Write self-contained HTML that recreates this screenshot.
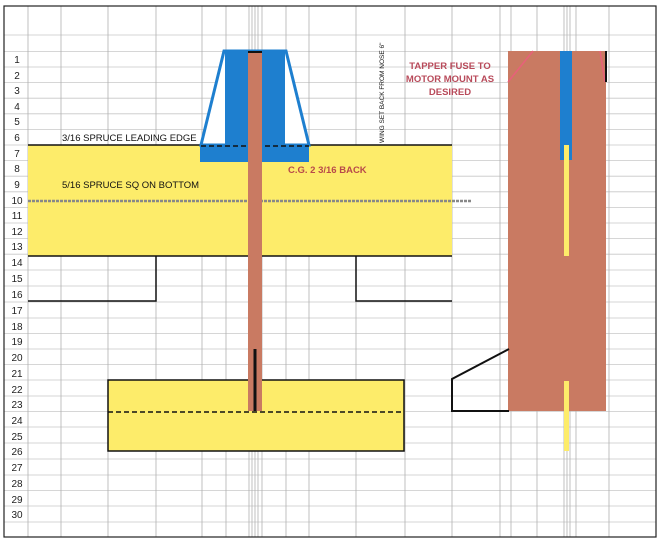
<!DOCTYPE html>
<html><head><meta charset="utf-8"><style>
html,body{margin:0;padding:0;background:#fff;}
svg{display:block;}
text{font-family:"Liberation Sans",sans-serif;}
</style></head><body>
<svg width="660" height="543" viewBox="0 0 660 543" xmlns="http://www.w3.org/2000/svg">
<rect x="0" y="0" width="660" height="543" fill="#fff"/>
<!-- grid horizontal -->
<g stroke="#c8c8c8" stroke-width="0.8">
<line x1="4" y1="35" x2="656" y2="35"/>
<line x1="4" y1="51.4" x2="656" y2="51.4"/>
<line x1="4" y1="67" x2="656" y2="67"/>
<line x1="4" y1="82.6" x2="656" y2="82.6"/>
<line x1="4" y1="98.2" x2="656" y2="98.2"/>
<line x1="4" y1="113.8" x2="656" y2="113.8"/>
<line x1="4" y1="129.4" x2="656" y2="129.4"/>
<line x1="4" y1="145" x2="656" y2="145"/>
<line x1="4" y1="160.6" x2="656" y2="160.6"/>
<line x1="4" y1="176.2" x2="656" y2="176.2"/>
<line x1="4" y1="191.8" x2="656" y2="191.8"/>
<line x1="4" y1="207.4" x2="656" y2="207.4"/>
<line x1="4" y1="223" x2="656" y2="223"/>
<line x1="4" y1="238.6" x2="656" y2="238.6"/>
<line x1="4" y1="254.2" x2="656" y2="254.2"/>
<line x1="4" y1="270" x2="656" y2="270"/>
<line x1="4" y1="286" x2="656" y2="286"/>
<line x1="4" y1="302" x2="656" y2="302"/>
<line x1="4" y1="318" x2="656" y2="318"/>
<line x1="4" y1="333.5" x2="656" y2="333.5"/>
<line x1="4" y1="349" x2="656" y2="349"/>
<line x1="4" y1="364.5" x2="656" y2="364.5"/>
<line x1="4" y1="380" x2="656" y2="380"/>
<line x1="4" y1="396" x2="656" y2="396"/>
<line x1="4" y1="411.5" x2="656" y2="411.5"/>
<line x1="4" y1="427" x2="656" y2="427"/>
<line x1="4" y1="443" x2="656" y2="443"/>
<line x1="4" y1="459" x2="656" y2="459"/>
<line x1="4" y1="475" x2="656" y2="475"/>
<line x1="4" y1="490.5" x2="656" y2="490.5"/>
<line x1="4" y1="506" x2="656" y2="506"/>
<line x1="4" y1="522" x2="656" y2="522"/>
</g>
<!-- grid vertical -->
<g stroke="#b0b0b0" stroke-width="0.8">
<line x1="28" y1="6" x2="28" y2="537"/>
<line x1="61" y1="6" x2="61" y2="537"/>
<line x1="108" y1="6" x2="108" y2="537"/>
<line x1="156" y1="6" x2="156" y2="537"/>
<line x1="202" y1="6" x2="202" y2="537"/>
<line x1="226" y1="6" x2="226" y2="537"/>
<line x1="249" y1="6" x2="249" y2="537"/>
<line x1="252" y1="6" x2="252" y2="537"/>
<line x1="255" y1="6" x2="255" y2="537"/>
<line x1="258" y1="6" x2="258" y2="537"/>
<line x1="262" y1="6" x2="262" y2="537"/>
<line x1="286" y1="6" x2="286" y2="537"/>
<line x1="309" y1="6" x2="309" y2="537"/>
<line x1="356" y1="6" x2="356" y2="537"/>
<line x1="405" y1="6" x2="405" y2="537"/>
<line x1="452" y1="6" x2="452" y2="537"/>
<line x1="500" y1="6" x2="500" y2="537"/>
<line x1="511" y1="6" x2="511" y2="537"/>
<line x1="537" y1="6" x2="537" y2="537"/>
<line x1="564" y1="6" x2="564" y2="537"/>
<line x1="567" y1="6" x2="567" y2="537"/>
<line x1="570" y1="6" x2="570" y2="537"/>
<line x1="576" y1="6" x2="576" y2="537"/>
<line x1="609" y1="6" x2="609" y2="537"/>
</g>
<rect x="4" y="6" width="652" height="531" fill="none" stroke="#222" stroke-width="1.2"/>
<!-- row numbers -->
<g font-size="10" fill="#222" text-anchor="middle">
<text x="17" y="63">1</text><text x="17" y="79">2</text><text x="17" y="94">3</text><text x="17" y="110">4</text><text x="17" y="125">5</text><text x="17" y="141">6</text><text x="17" y="157">7</text><text x="17" y="172">8</text><text x="17" y="188">9</text><text x="17" y="204">10</text><text x="17" y="219">11</text><text x="17" y="235">12</text><text x="17" y="250">13</text><text x="17" y="266">14</text><text x="17" y="282">15</text><text x="17" y="298">16</text><text x="17" y="314">17</text><text x="17" y="330">18</text><text x="17" y="345">19</text><text x="17" y="361">20</text><text x="17" y="377">21</text><text x="17" y="393">22</text><text x="17" y="408">23</text><text x="17" y="424">24</text><text x="17" y="440">25</text><text x="17" y="455">26</text><text x="17" y="471">27</text><text x="17" y="487">28</text><text x="17" y="503">29</text><text x="17" y="518">30</text>
</g>
<!-- white box above wing area -->
<rect x="29" y="52" width="172" height="92" fill="#fff" opacity="0"/>
<!-- wing -->
<rect x="28" y="145" width="424" height="111" fill="#fdec6a"/>
<line x1="28" y1="145" x2="452" y2="145" stroke="#111" stroke-width="1.5"/>
<line x1="28" y1="201" x2="472" y2="201" stroke="#888" stroke-width="2.5" stroke-dasharray="3,1"/>
<line x1="28" y1="256" x2="452" y2="256" stroke="#111" stroke-width="1.5"/>
<polyline points="28,301 156,301 156,256" fill="none" stroke="#111" stroke-width="1.5"/>
<polyline points="356,256 356,301 452,301" fill="none" stroke="#111" stroke-width="1.5"/>
<!-- canopy -->
<polygon points="224,51 286,51 309,145 201,145" fill="#fff" stroke="#1e7fcf" stroke-width="3"/>
<rect x="225" y="51" width="60" height="94" fill="#1e7fcf"/>
<rect x="200" y="145" width="109" height="17" fill="#1e7fcf"/>
<line x1="201" y1="146" x2="309" y2="146" stroke="#111" stroke-width="1.5" stroke-dasharray="5,3"/>
<!-- stab -->
<rect x="108" y="380" width="296" height="71" fill="#fdec6a" stroke="#111" stroke-width="1.5"/>
<line x1="108" y1="412" x2="404" y2="412" stroke="#111" stroke-width="1.5" stroke-dasharray="5,3"/>
<!-- fuselage -->
<rect x="248" y="51" width="14" height="360" fill="#c97a62"/>
<line x1="248" y1="52" x2="262" y2="52" stroke="#111" stroke-width="2"/>
<line x1="255" y1="349" x2="255" y2="411" stroke="#111" stroke-width="3"/>
<!-- labels -->
<text x="62" y="141" font-size="9.5" fill="#111">3/16 SPRUCE LEADING EDGE</text>
<text x="62" y="188" font-size="9.5" fill="#111">5/16 SPRUCE SQ ON BOTTOM</text>
<text x="288" y="173" font-size="9.5" font-weight="bold" fill="#b84a4a">C.G. 2 3/16 BACK</text>
<text transform="translate(384,143) rotate(-90)" font-size="6.5" fill="#111">WING SET BACK FROM NOSE 6"</text>
<g font-size="9.5" font-weight="bold" fill="#b84a5a" text-anchor="middle">
<text x="450" y="69">TAPPER FUSE TO</text>
<text x="450" y="82">MOTOR MOUNT AS</text>
<text x="450" y="95">DESIRED</text>
</g>
<!-- side view -->
<rect x="508" y="51" width="98" height="360" fill="#c97a62"/>
<line x1="508" y1="82" x2="533" y2="51" stroke="#e8607a" stroke-width="1.5"/>
<line x1="600" y1="51" x2="605" y2="82" stroke="#e8607a" stroke-width="1.5"/>
<line x1="606" y1="51" x2="606" y2="82" stroke="#111" stroke-width="2"/>
<rect x="560" y="51" width="12" height="109" fill="#1e7fcf"/>
<rect x="564" y="145" width="5" height="111" fill="#fdec6a"/>
<rect x="564" y="381" width="5" height="70" fill="#fdec6a"/>
<polyline points="509,349 452,379 452,411 509,411" fill="none" stroke="#111" stroke-width="2"/>
</svg>
</body></html>
